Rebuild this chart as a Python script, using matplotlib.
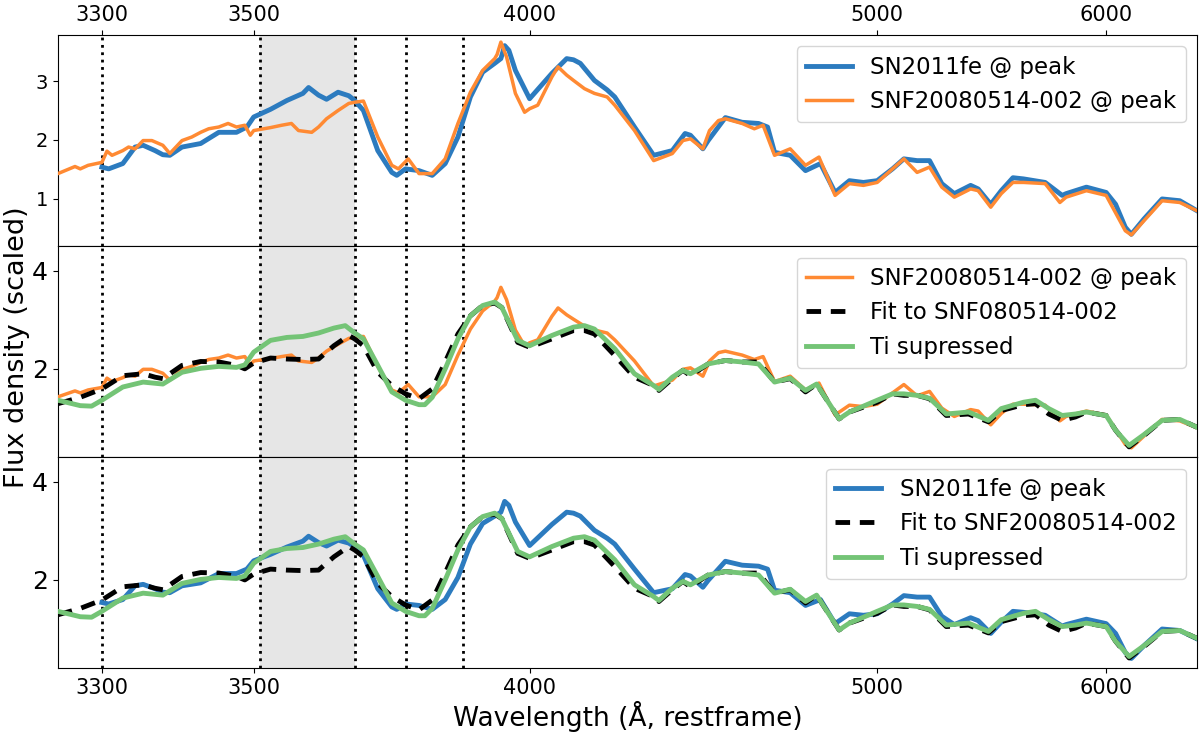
import matplotlib
matplotlib.use("Agg")
import matplotlib.pyplot as plt
import numpy as np

# ── Data ─────────────────────────────────────────────────────────────────────
# SN2011fe @ peak
wl_11fe = [3300, 3308, 3325, 3340, 3350, 3365, 3375, 3384, 3400, 3425, 3450, 3475,
           3490, 3500, 3525, 3550, 3575, 3584, 3600, 3613, 3632, 3650, 3660, 3675,
           3700, 3725, 3734, 3750, 3775, 3800, 3825, 3850, 3875, 3900, 3925, 3938,
           3946, 3955, 3969, 4000, 4050, 4084, 4100, 4116, 4150, 4181, 4200, 4250,
           4300, 4350, 4385, 4400, 4435, 4450, 4500, 4550, 4600, 4628, 4650, 4700,
           4750, 4800, 4850, 4900, 4950, 5000, 5057, 5100, 5151, 5200, 5249, 5300,
           5368, 5400, 5454, 5500, 5552, 5600, 5700, 5781, 5800, 5900, 6000, 6049,
           6100, 6132, 6200, 6300, 6400, 6500]
fl_11fe = [1.54, 1.51, 1.60, 1.88, 1.91, 1.82, 1.75, 1.74, 1.88, 1.94, 2.13, 2.13,
           2.22, 2.39, 2.52, 2.67, 2.79, 2.89, 2.76, 2.69, 2.81, 2.75, 2.67, 2.50,
           1.82, 1.45, 1.40, 1.51, 1.48, 1.40, 1.60, 2.05, 2.73, 3.15, 3.30, 3.38,
           3.60, 3.52, 3.18, 2.70, 3.13, 3.38, 3.36, 3.30, 3.01, 2.85, 2.73, 2.22,
           1.74, 1.82, 2.11, 2.08, 1.85, 1.99, 2.38, 2.30, 2.28, 2.22, 1.79, 1.74,
           1.48, 1.60, 1.11, 1.31, 1.28, 1.31, 1.51, 1.68, 1.65, 1.65, 1.26, 1.09,
           1.23, 1.17, 0.91, 1.14, 1.36, 1.34, 1.28, 1.06, 1.09, 1.20, 1.11, 0.91,
           0.52, 0.40, 0.66, 1.00, 0.97, 0.80]

# SNF20080514-002 @ peak
wl_snf = [3250, 3269, 3275, 3284, 3300, 3306, 3312, 3325, 3332, 3340, 3350, 3361,
          3375, 3384, 3400, 3413, 3425, 3436, 3450, 3463, 3475, 3487, 3495, 3500,
          3525, 3542, 3557, 3568, 3589, 3600, 3613, 3632, 3650, 3660, 3675, 3700,
          3725, 3737, 3755, 3775, 3800, 3825, 3850, 3875, 3900, 3925, 3930, 3938,
          3950, 3969, 3989, 4000, 4018, 4050, 4064, 4084, 4100, 4126, 4150, 4181,
          4200, 4250, 4300, 4350, 4379, 4400, 4435, 4454, 4480, 4500, 4550, 4587,
          4614, 4650, 4700, 4750, 4795, 4850, 4900, 4950, 5000, 5057, 5100, 5151,
          5200, 5249, 5300, 5368, 5400, 5454, 5500, 5552, 5600, 5700, 5770, 5800,
          5900, 6000, 6100, 6132, 6200, 6300, 6400, 6500]
fl_snf = [1.43, 1.55, 1.51, 1.57, 1.62, 1.81, 1.74, 1.82, 1.88, 1.85, 1.99, 1.99,
          1.91, 1.77, 1.99, 2.05, 2.13, 2.19, 2.22, 2.28, 2.22, 2.25, 2.08, 2.16,
          2.21, 2.25, 2.28, 2.16, 2.13, 2.22, 2.36, 2.50, 2.62, 2.64, 2.66, 2.05,
          1.57, 1.51, 1.68, 1.43, 1.43, 1.68, 2.28, 2.81, 3.18, 3.38, 3.45, 3.66,
          3.41, 2.79, 2.47, 2.53, 2.59, 3.07, 3.24, 3.10, 3.01, 2.87, 2.79, 2.73,
          2.59, 2.16, 1.65, 1.77, 1.99, 2.02, 1.85, 2.16, 2.33, 2.36, 2.28, 2.19,
          2.25, 1.74, 1.85, 1.57, 1.71, 1.06, 1.26, 1.23, 1.28, 1.51, 1.68, 1.45,
          1.54, 1.20, 1.03, 1.17, 1.14, 0.86, 1.09, 1.28, 1.28, 1.26, 0.94, 1.03,
          1.14, 1.06, 0.46, 0.39, 0.63, 0.97, 0.94, 0.80]

# Fit to SNF20080514-002
wl_fit = [3250, 3275, 3300, 3325, 3350, 3365, 3375, 3400, 3425, 3450, 3475, 3487,
          3500, 3525, 3550, 3575, 3600, 3625, 3650, 3660, 3675, 3700, 3725, 3750,
          3775, 3800, 3825, 3850, 3875, 3900, 3925, 3940, 3974, 4000, 4050, 4100,
          4126, 4150, 4200, 4250, 4300, 4314, 4350, 4379, 4400, 4450, 4500, 4550,
          4600, 4650, 4700, 4750, 4787, 4864, 4900, 4950, 5000, 5057, 5100, 5151,
          5200, 5267, 5359, 5444, 5500, 5600, 5655, 5717, 5781, 5846, 5900, 6000,
          6049, 6120, 6200, 6300, 6400, 6500]
fl_fit = [1.29, 1.42, 1.59, 1.86, 1.90, 1.83, 1.80, 2.07, 2.15, 2.14, 2.07, 2.00,
          2.12, 2.22, 2.20, 2.19, 2.20, 2.47, 2.68, 2.61, 2.47, 1.93, 1.66, 1.49,
          1.39, 1.59, 2.14, 2.71, 3.08, 3.29, 3.34, 3.25, 2.54, 2.44, 2.61, 2.78,
          2.78, 2.71, 2.27, 1.83, 1.66, 1.56, 1.80, 1.97, 1.86, 2.10, 2.17, 2.14,
          2.14, 1.73, 1.80, 1.53, 1.69, 0.98, 1.12, 1.22, 1.32, 1.49, 1.46, 1.46,
          1.39, 1.05, 1.08, 0.92, 1.15, 1.27, 1.29, 1.08, 0.95, 1.02, 1.12, 1.05,
          0.75, 0.41, 0.64, 0.95, 0.97, 0.81]

# Ti supressed model
wl_ti = [3250, 3275, 3288, 3300, 3325, 3350, 3375, 3400, 3425, 3450, 3475, 3487,
         3500, 3525, 3550, 3575, 3600, 3625, 3644, 3660, 3675, 3700, 3725, 3750,
         3775, 3786, 3800, 3825, 3850, 3875, 3900, 3925, 3940, 3974, 4000, 4050,
         4100, 4126, 4150, 4200, 4250, 4300, 4314, 4350, 4379, 4400, 4450, 4500,
         4550, 4600, 4650, 4700, 4750, 4787, 4864, 4900, 4950, 5000, 5057, 5100,
         5151, 5200, 5267, 5359, 5444, 5500, 5600, 5655, 5717, 5781, 5846, 5900,
         6000, 6049, 6120, 6200, 6300, 6400, 6500]
fl_ti = [1.36, 1.25, 1.24, 1.36, 1.63, 1.73, 1.69, 1.93, 2.01, 2.05, 2.03, 2.08,
         2.34, 2.58, 2.64, 2.66, 2.73, 2.83, 2.88, 2.73, 2.61, 2.07, 1.53, 1.36,
         1.27, 1.27, 1.42, 2.00, 2.61, 3.08, 3.29, 3.36, 3.25, 2.58, 2.47, 2.68,
         2.85, 2.88, 2.81, 2.41, 1.90, 1.66, 1.58, 1.83, 1.97, 1.90, 2.10, 2.17,
         2.14, 2.10, 1.73, 1.81, 1.56, 1.69, 0.98, 1.12, 1.24, 1.36, 1.49, 1.49,
         1.46, 1.40, 1.08, 1.12, 0.95, 1.19, 1.32, 1.36, 1.19, 1.05, 1.08, 1.12,
         1.05, 0.75, 0.44, 0.66, 0.95, 0.97, 0.81]

line_wl = [3300, 3510, 3660, 3750, 3860]
band_wl = (3510, 3660)
xticks = [3300, 3500, 4000, 5000, 6000]

# ── Styles ───────────────────────────────────────────────────────────────────
BLUE = "#2c7bbf"
ORANGE = "#ff8a33"
GREEN = "#74c476"
LBL_11FE = "SN2011fe @ peak"
LBL_SNF = "SNF20080514-002 @ peak"


def _fwd(x):
    return np.log(np.clip(np.asarray(x, float) - 2500.0, 1e-3, None))


def _inv(y):
    return np.exp(y) + 2500.0


fig, axes = plt.subplots(3, 1, figsize=(12, 7.39), dpi=100, sharex=True)
fig.subplots_adjust(left=0.0483, right=0.9975, top=0.9526, bottom=0.0957, hspace=0)
ax1, ax2, ax3 = axes

for ax in axes:
    ax.set_xscale("function", functions=(_fwd, _inv))
    ax.axvspan(*band_wl, color="0.9", zorder=0, lw=0)
    for w in line_wl:
        ax.axvline(w, color="k", ls=":", lw=2, zorder=1)

# top panel
ax1.plot(wl_11fe, fl_11fe, color=BLUE, lw=3.5, label=LBL_11FE, zorder=3)
ax1.plot(wl_snf, fl_snf, color=ORANGE, lw=2.5, label=LBL_SNF, zorder=4)

# middle panel
ax2.plot(wl_snf, fl_snf, color=ORANGE, lw=2.5, label=LBL_SNF, zorder=3)
ax2.plot(wl_fit, fl_fit, color="k", lw=3.5, ls=(0, (3, 2)),
         label="Fit to SNF080514-002", zorder=4)
ax2.plot(wl_ti, fl_ti, color=GREEN, lw=3.5, label="Ti supressed", zorder=5)

# bottom panel
ax3.plot(wl_11fe, fl_11fe, color=BLUE, lw=3.5, label=LBL_11FE, zorder=3)
ax3.plot(wl_fit, fl_fit, color="k", lw=3.5, ls=(0, (3, 2)),
         label="Fit to SNF20080514-002", zorder=4)
ax3.plot(wl_ti, fl_ti, color=GREEN, lw=3.5, label="Ti supressed", zorder=5)

ax1.set_ylim(0.2, 3.78)
ax2.set_ylim(0.2, 4.5)
ax3.set_ylim(0.2, 4.5)
ax1.set_yticks([1, 2, 3])
ax2.set_yticks([2, 4])
ax3.set_yticks([2, 4])
ax1.tick_params(axis="y", labelsize=14)
ax2.tick_params(axis="y", labelsize=18)
ax3.tick_params(axis="y", labelsize=18)

ax3.set_xlim(3250, 6500)
for ax in axes:
    ax.set_xticks(xticks)
    ax.set_xticklabels([str(t) for t in xticks])
    ax.xaxis.set_minor_locator(matplotlib.ticker.NullLocator())
ax1.tick_params(axis="x", top=True, labeltop=True, bottom=False, labelbottom=False,
                labelsize=15)
ax2.tick_params(axis="x", top=False, bottom=False, labelbottom=False)
ax3.tick_params(axis="x", labelsize=15)

for ax in axes:
    ax.legend(loc="upper right", fontsize=16.5)

ax3.set_xlabel("Wavelength (Å, restframe)", fontsize=19, labelpad=2)
fig.text(0.014, 0.53, "Flux density (scaled)", rotation=90, va="center",
         ha="center", fontsize=19.5)

fig.savefig("out.png", dpi=100)
